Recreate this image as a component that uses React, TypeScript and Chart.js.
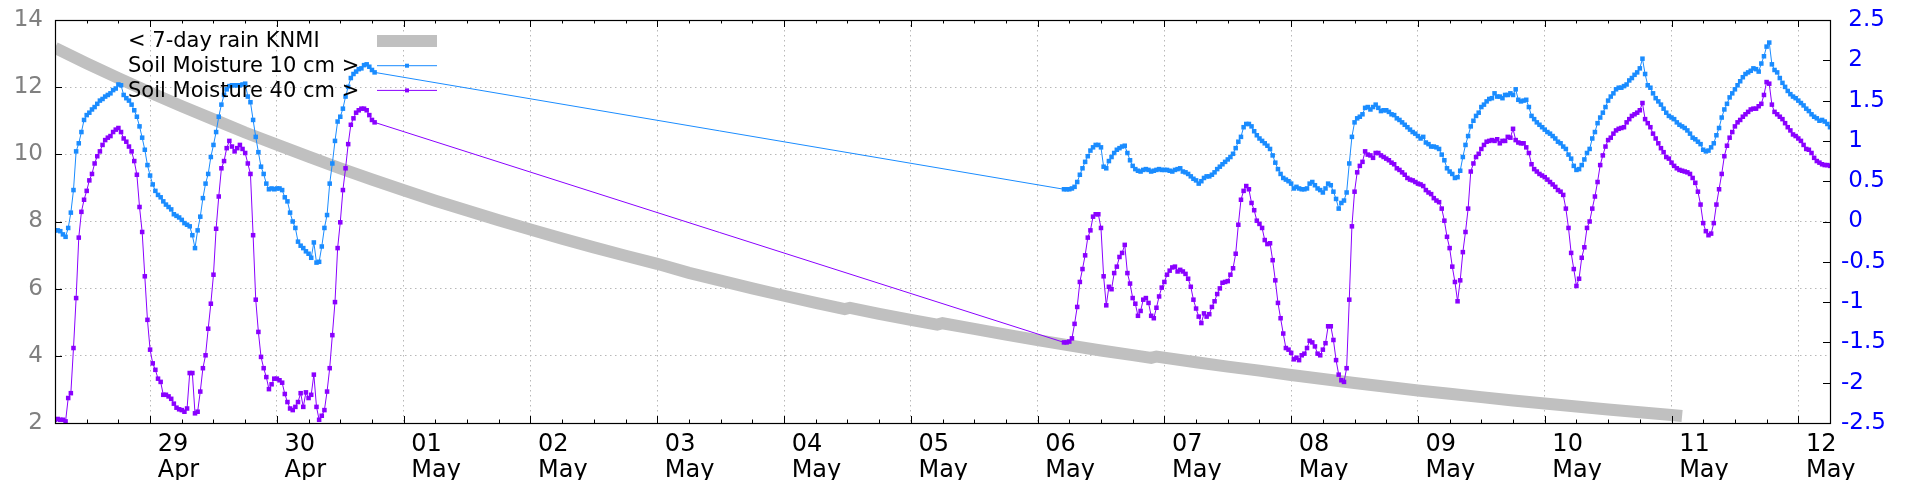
import React, { useEffect, useRef } from 'react';
import { Chart, registerables } from 'chart.js';

Chart.register(...registerables);
Chart.defaults.font.family = '"DejaVu Sans", sans-serif';

// time axis: hours since 28 Apr 00:00
const X_MIN = 6;
const X_MAX = 342;
const MINOR_STEP = 6;
const STEP_H = 0.5;
const seg1Start = 6;
const seg2Start = 197;

const dayTicks = [24, 48, 72, 96, 120, 144, 168, 192, 216, 240, 264, 288, 312, 336];
const dayLabels = [
  ['29', 'Apr'], ['30', 'Apr'], ['01', 'May'], ['02', 'May'], ['03', 'May'], ['04', 'May'], ['05', 'May'],
  ['06', 'May'], ['07', 'May'], ['08', 'May'], ['09', 'May'], ['10', 'May'], ['11', 'May'], ['12', 'May'],
];
const leftTicks = [2, 4, 6, 8, 10, 12, 14];
const rightTicks = [-2.5, -2, -1.5, -1, -0.5, 0, 0.5, 1, 1.5, 2, 2.5];

const rainLabel = '< 7-day rain KNMI';
const blueLabel = 'Soil Moisture 10 cm >';
const purpleLabel = 'Soil Moisture 40 cm >';

const rainHours = [6, 12, 18, 24, 30, 36, 42, 48, 54, 60, 66, 72, 78, 84, 90, 96, 102, 108, 114, 120, 126, 132, 138, 144, 150, 155.5, 156.5, 162, 168, 173, 174, 180, 186, 192, 198, 204, 210, 213.5, 214.5, 222, 228, 234, 240, 246, 252, 258, 264, 270, 276, 282, 288, 294, 300, 306, 312, 314];
const rainValues = [13.17, 12.71, 12.27, 11.84, 11.43, 11.04, 10.65, 10.29, 9.93, 9.58, 9.25, 8.93, 8.62, 8.33, 8.04, 7.76, 7.49, 7.23, 6.98, 6.74, 6.47, 6.24, 6.01, 5.79, 5.58, 5.39, 5.43, 5.25, 5.07, 4.93, 4.97, 4.80, 4.63, 4.47, 4.31, 4.16, 4.02, 3.94, 3.98, 3.81, 3.68, 3.56, 3.43, 3.31, 3.19, 3.08, 2.97, 2.87, 2.77, 2.67, 2.58, 2.49, 2.40, 2.32, 2.24, 2.21];

// Soil moisture 10 cm, half-hourly from seg1Start
const blue1 = [
  -0.11, -0.11, -0.12, -0.16, -0.19, -0.08, 0.11, 0.39, 0.87, 0.97, 1.11, 1.26, 1.32, 1.35, 1.39, 1.42, 1.46, 1.50, 1.52, 1.55,
  1.57, 1.59, 1.63, 1.65, 1.70, 1.69, 1.57, 1.53, 1.50, 1.45, 1.38, 1.30, 1.18, 1.04, 0.89, 0.70, 0.57, 0.46, 0.38, 0.33,
  0.30, 0.25, 0.21, 0.18, 0.15, 0.09, 0.07, 0.05, 0.02, -0.02, -0.04, -0.06, -0.17, -0.33, -0.11, 0.06, 0.29, 0.47, 0.59, 0.80,
  0.95, 1.11, 1.30, 1.45, 1.57, 1.64, 1.68, 1.69, 1.69, 1.69, 1.69, 1.70, 1.71, 1.55, 1.48, 1.26, 1.05, 0.86, 0.68, 0.59,
  0.47, 0.40, 0.41, 0.40, 0.41, 0.41, 0.39, 0.30, 0.25, 0.11, 0.00, -0.08, -0.25, -0.30, -0.33, -0.37, -0.40, -0.45, -0.26, -0.51,
  -0.50, -0.31, -0.08, 0.08, 0.47, 0.72, 1.00, 1.24, 1.30, 1.40, 1.55, 1.67, 1.78, 1.83, 1.86, 1.89, 1.90, 1.94, 1.95, 1.92,
  1.88, 1.85,
];
// Soil moisture 10 cm, half-hourly from seg2Start
const blue2 = [
  0.40, 0.40, 0.40, 0.41, 0.43, 0.49, 0.58, 0.66, 0.74, 0.81, 0.88, 0.92, 0.95, 0.95, 0.92, 0.68, 0.66, 0.75, 0.80, 0.85,
  0.89, 0.91, 0.93, 0.94, 0.85, 0.76, 0.69, 0.65, 0.63, 0.62, 0.64, 0.65, 0.64, 0.62, 0.63, 0.64, 0.65, 0.64, 0.64, 0.64,
  0.63, 0.62, 0.64, 0.65, 0.66, 0.62, 0.61, 0.59, 0.56, 0.53, 0.51, 0.47, 0.50, 0.54, 0.56, 0.56, 0.58, 0.61, 0.65, 0.68,
  0.71, 0.74, 0.77, 0.80, 0.84, 0.91, 0.99, 1.05, 1.17, 1.21, 1.21, 1.18, 1.12, 1.07, 1.03, 1.00, 0.97, 0.94, 0.90, 0.82,
  0.73, 0.65, 0.59, 0.54, 0.52, 0.50, 0.47, 0.41, 0.43, 0.41, 0.40, 0.40, 0.41, 0.47, 0.49, 0.45, 0.41, 0.39, 0.36, 0.41,
  0.47, 0.45, 0.37, 0.28, 0.16, 0.23, 0.26, 0.36, 0.72, 1.05, 1.23, 1.28, 1.30, 1.33, 1.41, 1.42, 1.39, 1.42, 1.45, 1.41,
  1.37, 1.38, 1.38, 1.36, 1.33, 1.32, 1.28, 1.26, 1.23, 1.20, 1.17, 1.14, 1.11, 1.09, 1.06, 1.03, 1.05, 0.98, 0.96, 0.93,
  0.93, 0.92, 0.90, 0.83, 0.76, 0.66, 0.62, 0.59, 0.54, 0.55, 0.63, 0.80, 0.95, 1.06, 1.18, 1.25, 1.31, 1.35, 1.42, 1.45,
  1.49, 1.52, 1.53, 1.59, 1.55, 1.55, 1.53, 1.57, 1.57, 1.59, 1.57, 1.64, 1.51, 1.49, 1.50, 1.51, 1.42, 1.31, 1.27, 1.23,
  1.20, 1.17, 1.14, 1.11, 1.09, 1.06, 1.03, 0.99, 0.97, 0.93, 0.90, 0.83, 0.78, 0.69, 0.64, 0.65, 0.70, 0.77, 0.85, 0.90,
  1.03, 1.11, 1.22, 1.29, 1.35, 1.42, 1.50, 1.55, 1.59, 1.64, 1.66, 1.66, 1.68, 1.70, 1.75, 1.78, 1.82, 1.85, 1.90, 2.02,
  1.83, 1.69, 1.66, 1.59, 1.53, 1.49, 1.45, 1.40, 1.35, 1.31, 1.29, 1.27, 1.23, 1.20, 1.18, 1.16, 1.13, 1.09, 1.04, 1.02,
  0.99, 0.96, 0.89, 0.87, 0.88, 0.92, 0.97, 1.07, 1.16, 1.29, 1.39, 1.46, 1.54, 1.59, 1.64, 1.69, 1.74, 1.79, 1.83, 1.85,
  1.87, 1.90, 1.89, 1.86, 1.96, 2.05, 2.17, 2.22, 1.95, 1.88, 1.85, 1.78, 1.72, 1.67, 1.62, 1.58, 1.55, 1.53, 1.50, 1.47,
  1.44, 1.40, 1.37, 1.33, 1.30, 1.28, 1.25, 1.26, 1.24, 1.21, 1.17,
];
// Soil moisture 40 cm, half-hourly from seg1Start
const purple1 = [
  -2.46, -2.45, -2.46, -2.46, -2.48, -2.19, -2.13, -1.57, -0.95, -0.20, 0.12, 0.27, 0.38, 0.51, 0.59, 0.72, 0.81, 0.87, 0.95, 1.01,
  1.04, 1.06, 1.11, 1.14, 1.16, 1.11, 1.03, 0.99, 0.93, 0.87, 0.75, 0.58, 0.18, -0.13, -0.68, -1.22, -1.59, -1.76, -1.84, -1.95,
  -1.99, -2.15, -2.15, -2.17, -2.20, -2.26, -2.31, -2.33, -2.34, -2.36, -2.32, -1.88, -1.88, -2.38, -2.36, -2.11, -1.82, -1.66, -1.33, -1.02,
  -0.66, -0.09, 0.31, 0.66, 0.75, 0.91, 1.00, 0.93, 0.87, 0.91, 0.95, 0.90, 0.85, 0.72, 0.59, -0.17, -0.97, -1.37, -1.68, -1.82,
  -1.93, -2.08, -2.02, -1.95, -1.95, -1.97, -2.00, -2.14, -2.24, -2.32, -2.34, -2.30, -2.24, -2.13, -2.30, -2.12, -2.19, -2.15, -1.90, -2.30,
  -2.46, -2.41, -2.34, -2.11, -1.82, -1.41, -1.00, -0.33, -0.01, 0.39, 0.66, 0.96, 1.20, 1.28, 1.35, 1.38, 1.40, 1.40, 1.38, 1.32,
  1.26, 1.23,
];
// Soil moisture 40 cm, half-hourly from seg2Start
const purple2 = [
  -1.50, -1.50, -1.49, -1.45, -1.27, -1.06, -0.75, -0.59, -0.42, -0.20, -0.11, 0.06, 0.09, 0.09, -0.08, -0.68, -1.04, -0.81, -0.84, -0.64,
  -0.56, -0.44, -0.39, -0.29, -0.64, -0.77, -0.95, -1.02, -1.17, -1.11, -0.97, -0.95, -1.01, -1.17, -1.20, -1.07, -0.93, -0.82, -0.75, -0.66,
  -0.61, -0.57, -0.56, -0.62, -0.60, -0.62, -0.65, -0.71, -0.81, -0.97, -1.08, -1.18, -1.26, -1.14, -1.18, -1.15, -1.06, -0.99, -0.90, -0.83,
  -0.76, -0.75, -0.74, -0.66, -0.58, -0.40, -0.04, 0.27, 0.38, 0.44, 0.40, 0.23, 0.14, 0.01, -0.03, -0.08, -0.23, -0.28, -0.27, -0.48,
  -0.73, -1.01, -1.20, -1.39, -1.57, -1.59, -1.63, -1.71, -1.69, -1.72, -1.66, -1.64, -1.57, -1.48, -1.50, -1.55, -1.64, -1.66, -1.59, -1.51,
  -1.30, -1.30, -1.47, -1.72, -1.90, -1.97, -1.99, -1.82, -0.97, -0.06, 0.37, 0.61, 0.69, 0.74, 0.87, 0.83, 0.82, 0.79, 0.85, 0.85,
  0.82, 0.80, 0.78, 0.76, 0.73, 0.71, 0.66, 0.64, 0.61, 0.58, 0.54, 0.52, 0.51, 0.49, 0.47, 0.46, 0.44, 0.39, 0.36, 0.34,
  0.29, 0.26, 0.24, 0.16, 0.01, -0.19, -0.33, -0.56, -0.75, -0.99, -0.73, -0.38, -0.13, 0.16, 0.62, 0.72, 0.80, 0.84, 0.90, 0.95,
  0.99, 1.00, 1.01, 1.00, 1.02, 0.97, 1.00, 1.00, 1.05, 1.04, 1.15, 1.01, 0.98, 0.97, 0.97, 0.92, 0.85, 0.71, 0.65, 0.62,
  0.59, 0.57, 0.55, 0.52, 0.49, 0.46, 0.43, 0.39, 0.37, 0.33, 0.16, -0.08, -0.39, -0.59, -0.80, -0.71, -0.45, -0.32, -0.08, 0.00,
  0.16, 0.31, 0.49, 0.70, 0.82, 0.93, 1.01, 1.04, 1.09, 1.13, 1.15, 1.16, 1.17, 1.23, 1.27, 1.31, 1.33, 1.35, 1.38, 1.47,
  1.27, 1.22, 1.17, 1.09, 1.03, 0.97, 0.91, 0.86, 0.80, 0.78, 0.73, 0.69, 0.66, 0.64, 0.63, 0.62, 0.61, 0.59, 0.54, 0.48,
  0.37, 0.21, -0.02, -0.12, -0.17, -0.15, -0.02, 0.21, 0.40, 0.59, 0.81, 0.94, 1.04, 1.11, 1.18, 1.23, 1.26, 1.30, 1.33, 1.36,
  1.39, 1.40, 1.40, 1.43, 1.46, 1.57, 1.73, 1.71, 1.45, 1.36, 1.33, 1.30, 1.27, 1.22, 1.17, 1.13, 1.08, 1.06, 1.03, 1.00,
  0.95, 0.90, 0.89, 0.85, 0.79, 0.75, 0.73, 0.71, 0.70, 0.70, 0.69,
];

const GRAY = '#c0c0c0';
const BLUE = '#1a8cff';
const PURPLE = '#8a00ff';

function toPoints(seg1: number[], seg2: number[]) {
  return [
    ...seg1.map((v, i) => ({ x: seg1Start + i * STEP_H, y: v })),
    ...seg2.map((v, i) => ({ x: seg2Start + i * STEP_H, y: v })),
  ];
}

const framePlugin = {
  id: 'gnuFrame',
  afterDraw(chart: any) {
    const { ctx, chartArea: a, scales } = chart;
    const xs = scales.x, ys = scales.y, y2s = scales.y2;
    ctx.save();
    ctx.strokeStyle = '#000';
    ctx.lineWidth = 1;
    ctx.beginPath();
    for (let h = X_MIN; h <= X_MAX; h += MINOR_STEP) {
      const px = Math.round(xs.getPixelForValue(h)) + 0.5;
      const len = h % 24 === 0 ? 7 : 3.5;
      ctx.moveTo(px, a.bottom);
      ctx.lineTo(px, a.bottom - len);
      ctx.moveTo(px, a.top);
      ctx.lineTo(px, a.top + len);
    }
    for (const v of leftTicks) {
      const py = Math.round(ys.getPixelForValue(v)) + 0.5;
      ctx.moveTo(a.left, py);
      ctx.lineTo(a.left + 7, py);
    }
    for (const v of rightTicks) {
      const py = Math.round(y2s.getPixelForValue(v)) + 0.5;
      ctx.moveTo(a.right, py);
      ctx.lineTo(a.right - 7, py);
    }
    ctx.stroke();
    ctx.lineWidth = 1.2;
    ctx.strokeRect(Math.round(a.left) + 0.5, Math.round(a.top) + 0.5, Math.round(a.right - a.left), Math.round(a.bottom - a.top));
    ctx.restore();
  },
};

const legendPlugin = {
  id: 'gnuLegend',
  afterDatasetsDraw(chart: any) {
    const { ctx, chartArea: a } = chart;
    ctx.save();
    ctx.font = '21px "DejaVu Sans"';
    ctx.textBaseline = 'middle';
    ctx.textAlign = 'left';
    chart.data.datasets.forEach((ds: any, i: number) => {
      const yy = a.top + 21 + i * 24.7;
      ctx.fillStyle = '#000';
      ctx.fillText(ds.label, a.left + 73, yy + 1);
      const x0 = a.left + 322;
      const x1 = a.left + 382;
      ctx.strokeStyle = ds.borderColor;
      ctx.lineWidth = ds.borderWidth;
      ctx.beginPath();
      ctx.moveTo(x0, yy);
      ctx.lineTo(x1, yy);
      ctx.stroke();
      if (ds.pointRadius > 0) {
        ctx.fillStyle = ds.borderColor;
        ctx.fillRect((x0 + x1) / 2 - 2, yy - 2, 4, 4);
      }
    });
    ctx.restore();
  },
};

export default function App() {
  const ref = useRef<HTMLCanvasElement | null>(null);
  useEffect(() => {
    if (!ref.current) return;
    const chart = new Chart(ref.current, {
      type: 'line',
      data: {
        datasets: [
          {
            label: rainLabel,
            data: rainHours.map((h, i) => ({ x: h, y: rainValues[i] })),
            borderColor: GRAY,
            backgroundColor: GRAY,
            borderWidth: 12,
            pointRadius: 0,
            yAxisID: 'y',
            order: 3,
          },
          {
            label: blueLabel,
            data: toPoints(blue1, blue2),
            borderColor: BLUE,
            backgroundColor: BLUE,
            borderWidth: 1,
            pointStyle: 'rect',
            pointRadius: 3.2,
            pointBorderWidth: 0,
            pointBackgroundColor: BLUE,
            yAxisID: 'y2',
            order: 1,
          },
          {
            label: purpleLabel,
            data: toPoints(purple1, purple2),
            borderColor: PURPLE,
            backgroundColor: PURPLE,
            borderWidth: 1,
            pointStyle: 'rect',
            pointRadius: 3.2,
            pointBorderWidth: 0,
            pointBackgroundColor: PURPLE,
            yAxisID: 'y2',
            order: 2,
          },
        ] as any,
      },
      options: {
        responsive: false,
        animation: false,
        events: [],
        layout: { padding: { top: 20, left: 0, right: 0, bottom: 0 } },
        plugins: { legend: { display: false }, tooltip: { enabled: false } },
        elements: { line: { tension: 0 } },
        scales: {
          x: {
            type: 'linear',
            min: X_MIN,
            max: X_MAX,
            afterBuildTicks: (s: any) => {
              s.ticks = dayTicks.map((v) => ({ value: v }));
            },
            afterFit: (s: any) => {
              s.height = 57;
              s.paddingLeft = 0;
              s.paddingRight = 0;
            },
            ticks: {
              autoSkip: false,
              maxRotation: 0,
              align: 'start',
              padding: 9,
              color: '#000',
              font: { size: 24, lineHeight: 26 / 24 },
              callback: (_v: any, i: number) => dayLabels[i].map((t) => ' ' + t),
            },
            grid: { color: '#b8b8b8', lineWidth: 1, drawTicks: false },
            border: { display: false, dash: [1.5, 3.5] },
          },
          y: {
            type: 'linear',
            position: 'left',
            min: 2,
            max: 14,
            afterFit: (s: any) => {
              s.width = 55;
              s.paddingTop = 0;
              s.paddingBottom = 0;
            },
            ticks: {
              stepSize: 2,
              padding: 12,
              color: '#808080',
              font: { size: 23 },
              callback: (v: any) => String(v),
            },
            grid: { color: '#b8b8b8', lineWidth: 1, drawTicks: false },
            border: { display: false, dash: [1.5, 3.5] },
          },
          y2: {
            type: 'linear',
            position: 'right',
            min: -2.5,
            max: 2.5,
            afterFit: (s: any) => {
              s.width = 90;
              s.paddingTop = 0;
              s.paddingBottom = 0;
            },
            ticks: {
              stepSize: 0.5,
              padding: 11,
              color: '#0000ff',
              font: { size: 23 },
              callback: (v: any) => {
                const n = Number(Number(v).toFixed(2));
                return (n >= 0 ? ' ' : '') + String(n);
              },
            },
            grid: { drawOnChartArea: false, drawTicks: false },
            border: { display: false },
          },
        },
      } as any,
      plugins: [framePlugin, legendPlugin],
    });
    return () => chart.destroy();
  }, []);
  return (
    <div style={{ position: 'absolute', left: 0, top: 0, width: 1920, height: 480, background: '#fff' }}>
      <canvas ref={ref} width={1920} height={480} style={{ display: 'block' }} />
    </div>
  );
}
